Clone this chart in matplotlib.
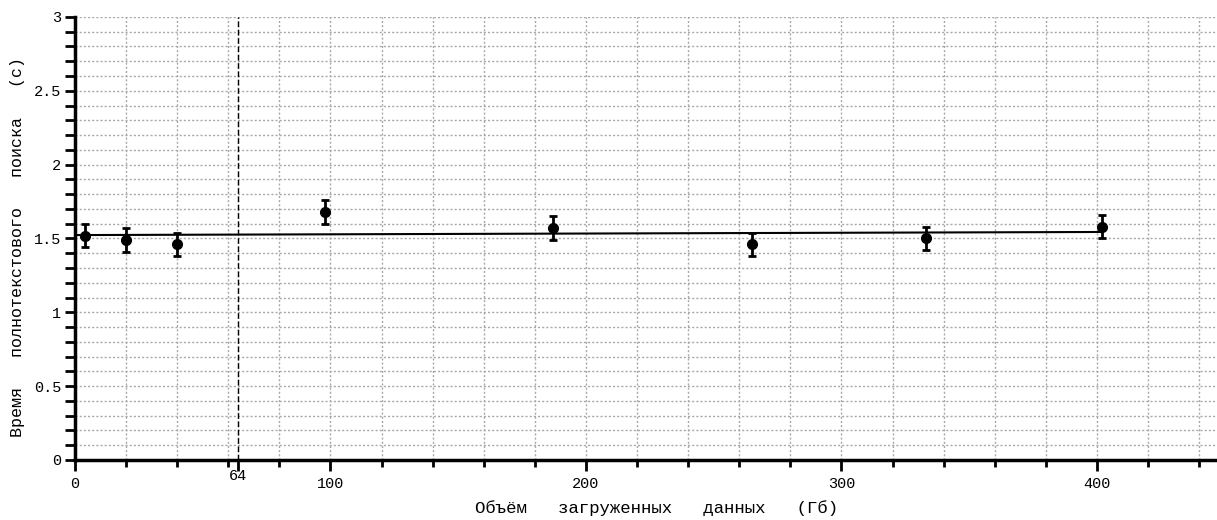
import numpy as np
import matplotlib
matplotlib.use('Agg')
import matplotlib.pyplot as plt
import matplotlib.transforms as mtransforms
from matplotlib.ticker import MultipleLocator, FixedLocator

# measured points (volume in GB, search time in s, error)
volume = [4, 20, 40, 98, 187, 265, 333, 402]
search_time = [1.52, 1.49, 1.46, 1.68, 1.57, 1.46, 1.50, 1.58]
err = [0.08, 0.08, 0.08, 0.08, 0.08, 0.08, 0.08, 0.08]

# linear fit
fit_x = [0, 402]
fit_y = [1.523, 1.544]

ram_limit = 64
x_ticks = [0, 64, 100, 200, 300, 400]
y_ticks = [0, 0.5, 1, 1.5, 2, 2.5, 3]
y_tick_labels = ['0', '0.5', '1', '1.5', '2', '2.5', '3']

plt.rcParams['font.family'] = ['Liberation Mono', 'DejaVu Sans Mono']

fig = plt.figure(figsize=(12.17, 5.2), dpi=100)
ax = fig.add_axes([0.0616, 0.1154, 0.9384, 0.852])

ax.set_xlim(0, 447)
ax.set_ylim(0, 3)

# grid on minor steps
ax.xaxis.set_minor_locator(MultipleLocator(20))
ax.yaxis.set_minor_locator(MultipleLocator(0.1))
ax.xaxis.set_major_locator(FixedLocator(x_ticks))
ax.yaxis.set_major_locator(FixedLocator(y_ticks))
ax.set_xticklabels([str(v) for v in x_ticks])
ax.set_yticklabels(y_tick_labels)
ax.grid(True, which='both', color='#a8a8a8', linestyle=(0, (1.5, 1.5)), linewidth=1)
ax.set_axisbelow(True)

for s in ['top', 'right']:
    ax.spines[s].set_visible(False)
for s in ['left', 'bottom']:
    ax.spines[s].set_linewidth(2.5)

ax.tick_params(axis='x', which='major', direction='out', length=8, width=2, labelsize=11, pad=4)
ax.tick_params(axis='x', which='minor', direction='out', length=5, width=2)
ax.tick_params(axis='y', which='both', direction='out', length=7, width=2, labelsize=11, pad=3)

# lift the "64" label a bit like in the original
for lbl in ax.get_xticklabels():
    if lbl.get_text() == '64':
        lbl.set_transform(lbl.get_transform() +
                          mtransforms.ScaledTranslation(0, 8 / 100, fig.dpi_scale_trans))

ax.axvline(ram_limit, color='black', linestyle=(0, (4, 2)), linewidth=1)

ax.plot(fit_x, fit_y, color='black', linewidth=1.5)
ax.errorbar(volume, search_time, yerr=err, fmt='o', color='black', ms=7,
            elinewidth=2, capsize=3, capthick=2)

ax.set_xlabel('Объём   загруженных   данных   (Гб)', fontsize=12.5, va='center')
ax.set_ylabel('Время   полнотекстового   поиска   (с)', fontsize=12, va='center')
ax.xaxis.set_label_coords(0.509, -0.108)
ax.yaxis.set_label_coords(-0.05, 0.48)

fig.savefig('out.png', dpi=100)
